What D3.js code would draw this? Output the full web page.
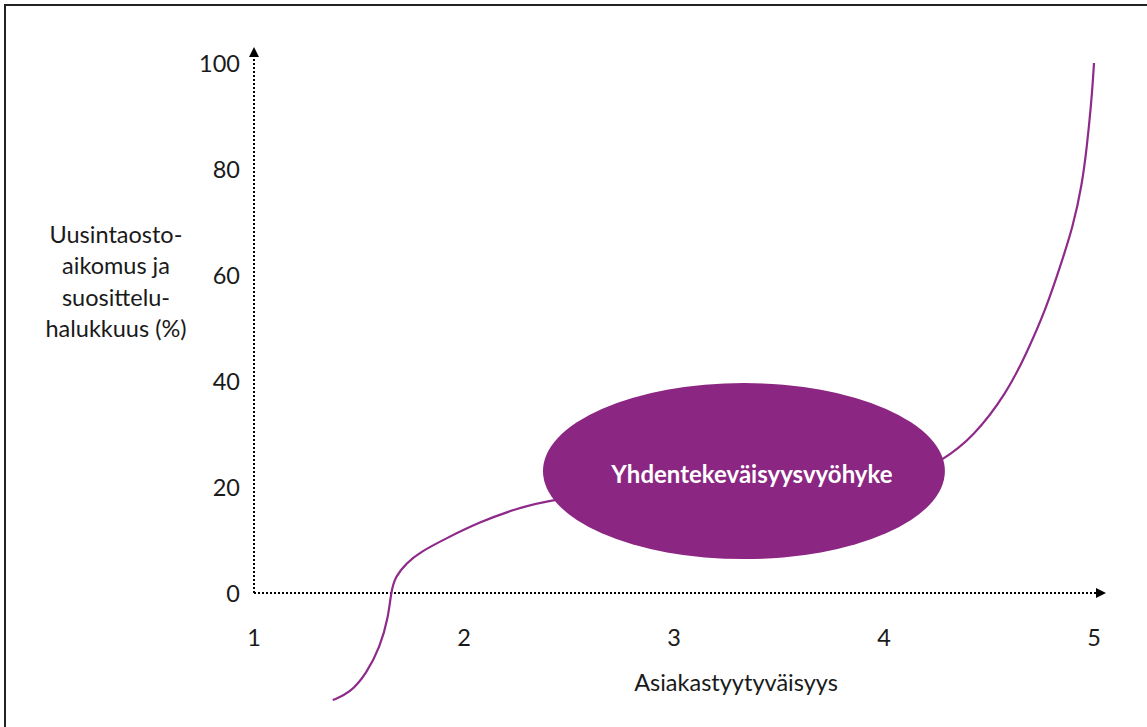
<!DOCTYPE html>
<html>
<head>
<meta charset="utf-8">
<script src="https://cdn.jsdelivr.net/npm/d3@7"></script>
<style>
  html, body { margin: 0; padding: 0; background: #fff; }
  svg { display: block; }
  text { font-family: Lato, "Open Sans", sans-serif; fill: #1a1a1a; }
</style>
</head>
<body>
<svg id="chart" width="1147" height="727"></svg>
<script>
// ---- data ----
const xTicks = [1, 2, 3, 4, 5];
const yTicks = [0, 20, 40, 60, 80, 100];
const xTitle = "Asiakastyytyväisyys";
const yTitleLines = ["Uusintaosto-", "aikomus ja", "suosittelu-", "halukkuus (%)"];
const zoneLabel = "Yhdentekeväisyysvyöhyke";
// curve (satisfaction 1-5, loyalty %)
const curveX = [1.375, 1.457, 1.537, 1.600, 1.640, 1.652, 1.671, 1.727, 1.790, 1.919, 2.076, 2.233, 2.410, 2.886, 3.5, 4.05, 4.282, 4.424, 4.584, 4.680, 4.775, 4.838, 4.900, 4.943, 4.967, 4.986, 4.995, 5.0];
const curveY = [-20.2, -18.9, -15.1, -10.2, -4.5, 0, 3.0, 5.7, 7.7, 10.4, 13.4, 15.7, 17.7, 19.8, 19.5, 20.0, 25.1, 29.4, 37.7, 45.3, 54.0, 61.5, 69.1, 77.0, 84.5, 92.1, 96.8, 100];
// indifference zone ellipse (centre x, centre y; half-width in x units, half-height in %)
const zoneCenter = [3.333, 23.0];
const zoneRadius = [0.957, 16.6];

// ---- layout ----
const svg = d3.select("#chart");
const x = d3.scaleLinear().domain([1, 5]).range([254, 1094]);
const y = d3.scaleLinear().domain([0, 100]).range([593, 63]);
const purple = "#8b2682";

// frame
svg.append("rect").attr("x", 5).attr("y", 5).attr("width", 1160).attr("height", 740)
  .attr("fill", "none").attr("stroke", "#222").attr("stroke-width", 2);

// arrowheads
const defs = svg.append("defs");
defs.append("marker").attr("id", "arrow").attr("viewBox", "0 0 10 10")
  .attr("refX", 0).attr("refY", 5).attr("markerWidth", 10).attr("markerHeight", 10)
  .attr("markerUnits", "userSpaceOnUse").attr("orient", "auto")
  .append("path").attr("d", "M0,0 L10,5 L0,10 Z").attr("fill", "#000");

// dotted axes
svg.append("line").attr("x1", x(1)).attr("y1", y(0)).attr("x2", 1096).attr("y2", y(0))
  .attr("stroke", "#000").attr("stroke-width", 2).attr("stroke-dasharray", "2,2")
  .attr("marker-end", "url(#arrow)");
svg.append("line").attr("x1", x(1)).attr("y1", y(0)).attr("x2", x(1)).attr("y2", 57)
  .attr("stroke", "#000").attr("stroke-width", 2).attr("stroke-dasharray", "2,2")
  .attr("marker-end", "url(#arrow)");

// fit base font size to the reference title width
const probe = svg.append("text").attr("font-size", 20).text(xTitle);
const fs = Math.round(20 * 204 / probe.node().getComputedTextLength() * 2) / 2;
probe.remove();

// tick labels
svg.append("g").selectAll("text").data(yTicks).join("text")
  .attr("x", 240).attr("y", d => y(d)).attr("text-anchor", "end")
  .attr("dominant-baseline", "central").attr("font-size", fs).text(d => d);
svg.append("g").selectAll("text").data(xTicks).join("text")
  .attr("x", d => x(d)).attr("y", 637).attr("text-anchor", "middle")
  .attr("dominant-baseline", "central").attr("font-size", fs).text(d => d);

// titles
svg.append("text").attr("x", 736).attr("y", 682).attr("text-anchor", "middle")
  .attr("dominant-baseline", "central").attr("font-size", fs).text(xTitle);
svg.append("g").selectAll("text").data(yTitleLines).join("text")
  .attr("x", 116).attr("y", (d, i) => 234 + i * 31.3).attr("text-anchor", "middle")
  .attr("dominant-baseline", "central").attr("font-size", fs).text(d => d);

// curve
const pts = curveX.map((v, i) => [v, curveY[i]]);
svg.append("path").datum(pts)
  .attr("d", d3.line().x(d => x(d[0])).y(d => y(d[1])).curve(d3.curveBasis))
  .attr("fill", "none").attr("stroke", "#8e2a8a").attr("stroke-width", 2.2);

// zone ellipse
svg.append("ellipse")
  .attr("cx", x(zoneCenter[0])).attr("cy", y(zoneCenter[1]))
  .attr("rx", x(zoneCenter[0] + zoneRadius[0]) - x(zoneCenter[0]))
  .attr("ry", y(0) - y(zoneRadius[1]))
  .attr("fill", purple);
const lbl = svg.append("text").attr("x", x(zoneCenter[0]) + 8).attr("y", y(zoneCenter[1]) + 2)
  .attr("text-anchor", "middle").attr("dominant-baseline", "central")
  .attr("font-size", 20).attr("font-weight", "bold").style("fill", "#fff").text(zoneLabel);
lbl.attr("font-size", Math.round(20 * 280 / lbl.node().getComputedTextLength() * 2) / 2);
</script>
</body>
</html>
